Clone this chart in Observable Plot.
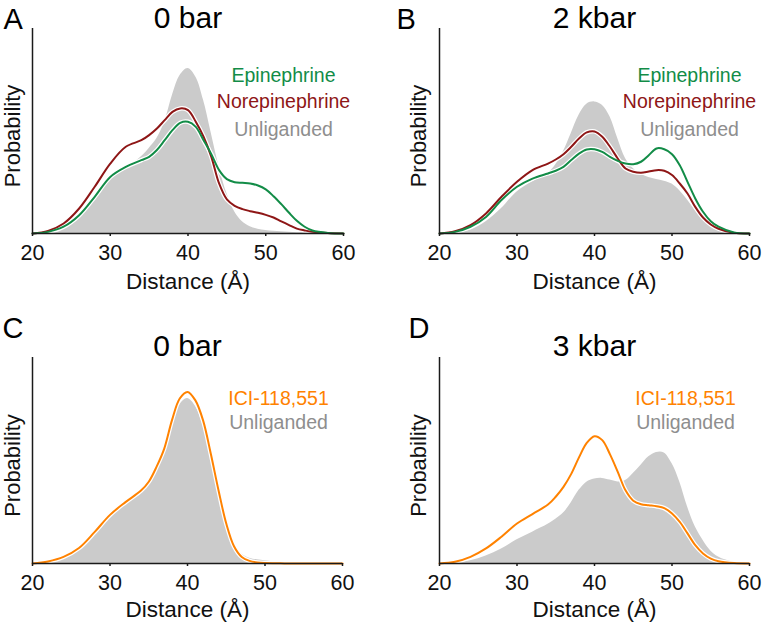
<!DOCTYPE html>
<html>
<head>
<meta charset="utf-8">
<script src="https://cdn.jsdelivr.net/npm/d3@7"></script>
<script src="https://cdn.jsdelivr.net/npm/@observablehq/plot@0.6"></script>
<style>
  body { margin: 0; background: #fff; }
  #fig { position: relative; width: 762px; height: 625px; overflow: hidden; background: #fff; }
  #fig svg { position: absolute; overflow: visible; }
</style>
</head>
<body>
<div id="fig"></div>
<script>
// ---------- data (distance in Å, probability in arbitrary units) ----------
const distance = [20, 22, 24, 26, 28, 30, 32, 34, 35, 36, 37, 38, 39, 40, 41, 42, 43, 44, 45, 46, 47, 48, 49, 50, 51, 52, 53, 54, 55, 56, 58, 60];
const xTicks = [20, 30, 40, 50, 60];

// Panel A: 0 bar
const unligA  = [0, 0.5, 2.9, 8.1, 16.3, 27.0, 31.7, 37.4, 41.5, 46.3, 54.5, 67.5, 77.2, 80.5, 76.4, 65.0, 48.8, 32.5, 19.5, 10.6, 5.7, 3.3, 2.1, 1.5, 1.1, 0.8, 0.6, 0.4, 0.3, 0.2, 0.1, 0];
const epiA    = [0, 0.8, 3.3, 8.9, 17.9, 27.6, 32.5, 35.8, 37.4, 40.7, 45.5, 50.4, 54.0, 54.5, 52.0, 45.5, 38.7, 30.9, 26.5, 25.0, 24.7, 24.4, 23.4, 21.5, 18.2, 14.3, 10.1, 6.2, 3.3, 1.5, 0.3, 0];
const norepiA = [0, 1.3, 4.9, 12.2, 22.8, 34.1, 42.3, 45.5, 48.0, 51.2, 55.3, 59.3, 61.0, 60.2, 54.5, 47.2, 37.4, 24.4, 16.6, 13.5, 11.9, 10.9, 10.1, 9.1, 7.8, 5.9, 4.1, 2.4, 1.5, 0.8, 0.2, 0];

// Panel B: 2 kbar
const unligB  = [0, 0.5, 1.6, 5.7, 12.2, 20.3, 25.2, 29.3, 33.5, 40.0, 48.8, 57.7, 63.1, 64.2, 62.6, 56.9, 46.3, 36.6, 31.7, 28.9, 27.3, 26.3, 25.5, 24.1, 20.8, 16.3, 11.1, 6.5, 3.3, 1.3, 0.2, 0];
const epiB    = [0, 0.8, 3.3, 8.1, 16.3, 22.8, 26.8, 29.3, 30.6, 32.5, 35.8, 39.0, 41.0, 41.1, 39.8, 37.4, 35.4, 34.1, 33.8, 35.0, 38.2, 41.5, 41.1, 38.7, 33.3, 25.2, 17.1, 10.6, 6.0, 3.3, 0.5, 0];
const norepiB = [0, 1.1, 4.1, 9.8, 17.9, 25.2, 30.9, 34.1, 36.1, 38.7, 42.3, 46.3, 49.3, 49.8, 47.2, 42.3, 36.6, 31.7, 30.1, 29.6, 30.2, 30.9, 30.6, 28.5, 24.4, 19.5, 13.0, 7.8, 4.4, 2.3, 0.3, 0];

// Panel C: 0 bar
const unligC  = [0, 0.8, 2.9, 7.0, 14.5, 22.9, 29.1, 34.6, 38.8, 45.6, 54.5, 67.5, 77.0, 80.1, 76.5, 67.0, 51.8, 35.0, 20.0, 9.5, 4.5, 2.6, 1.8, 1.3, 0.9, 0.6, 0.4, 0.3, 0.2, 0.1, 0, 0];
const iciC    = [0, 1.0, 3.2, 7.5, 15.2, 23.6, 29.8, 35.4, 39.7, 46.9, 55.8, 69.6, 80.1, 83.3, 79.3, 69.6, 53.4, 35.6, 19.4, 8.4, 3.2, 1.3, 0.5, 0.2, 0.1, 0.1, 0, 0, 0, 0, 0, 0];

// Panel D: 3 kbar
const unligD  = [0, 0.3, 1.3, 3.6, 7.0, 11.5, 15.2, 19.0, 21.5, 24.5, 29.5, 35.5, 39.5, 41.0, 41.3, 40.5, 39.6, 40.3, 43.7, 47.7, 51.8, 53.9, 53.7, 48.5, 39.6, 27.5, 17.8, 11.3, 6.1, 3.2, 0.6, 0];
const iciD    = [0, 0.8, 3.2, 7.3, 13.0, 19.4, 24.0, 28.6, 32.4, 37.2, 43.5, 51.5, 58.5, 61.8, 59.9, 53.0, 44.5, 35.5, 30.5, 28.8, 28.3, 27.8, 26.9, 24.3, 20.2, 14.6, 8.9, 4.9, 2.4, 1.1, 0.2, 0];

const panelLetters = ["A", "B", "C", "D"];
const panelTitles = ["0 bar", "2 kbar", "0 bar", "3 kbar"];
const seriesNames = { epi: "Epinephrine", norepi: "Norepinephrine", ici: "ICI-118,551", unlig: "Unliganded" };
const xLabel = "Distance (Å)";
const yLabel = "Probability";

// ---------- styles ----------
const COLORS = { epi: "#128c47", norepi: "#8e1616", ici: "#ff8200", unligText: "#8e8e8e", unligFill: "#cbcbcb", axis: "#1a1a1a" };
const FONT = "'Liberation Sans', Arial, Helvetica, sans-serif";
const CURVE = "catmull-rom";

const panels = [
  { letter: panelLetters[0], title: panelTitles[0], unlig: unligA,
    lines: [{ key: "norepi", values: norepiA }, { key: "epi", values: epiA }],
    legend: ["epi", "norepi", "unlig"],
    box: { left: 0, top: 0, width: 381, height: 300, mL: 32, mR: 38, mT: 28, mB: 67 },
    letterDx: -29, letterDy: 0, titleDy: -1, yLabDx: -13, xLabDy: 55, legDx: -60, legDy: [53.7, 79.7, 107] },
  { letter: panelLetters[1], title: panelTitles[1], unlig: unligB,
    lines: [{ key: "norepi", values: norepiB }, { key: "epi", values: epiB }],
    legend: ["epi", "norepi", "unlig"],
    box: { left: 381, top: 0, width: 381, height: 300, mL: 58, mR: 13, mT: 28, mB: 67 },
    letterDx: -43, letterDy: 0, titleDy: -1, yLabDx: -14, xLabDy: 55, legDx: -60, legDy: [53.7, 79.7, 107] },
  { letter: panelLetters[2], title: panelTitles[2], unlig: unligC,
    lines: [{ key: "ici", values: iciC }],
    legend: ["ici", "unlig"],
    box: { left: 0, top: 300, width: 381, height: 325, mL: 32, mR: 39, mT: 57, mB: 62 },
    letterDx: -30, letterDy: -20, titleDy: -2, yLabDx: -13, xLabDy: 53, legDx: -64, legDy: [47, 71] },
  { letter: panelLetters[3], title: panelTitles[3], unlig: unligD,
    lines: [{ key: "ici", values: iciD }],
    legend: ["ici", "unlig"],
    box: { left: 381, top: 300, width: 381, height: 325, mL: 58, mR: 13, mT: 57, mB: 62 },
    letterDx: -31, letterDy: -20, titleDy: -2, yLabDx: -14, xLabDy: 53, legDx: -64, legDy: [47, 71] }
];

const fig = document.getElementById("fig");

for (const p of panels) {
  const b = p.box;
  const marks = [
    Plot.areaY(distance, { x: d => d, y: (d, i) => p.unlig[i], fill: COLORS.unligFill, curve: CURVE })
  ];
  for (const s of p.lines) {
    marks.push(Plot.line(distance, { x: d => d, y: (d, i) => s.values[i], stroke: "white", strokeWidth: 4.5, curve: CURVE }));
  }
  for (const s of p.lines) {
    marks.push(Plot.line(distance, { x: d => d, y: (d, i) => s.values[i], stroke: COLORS[s.key], strokeWidth: 2, curve: CURVE }));
  }
  marks.push(
    Plot.ruleY([0], { stroke: COLORS.axis, strokeWidth: 1.5 }),
    Plot.ruleX([20], { stroke: COLORS.axis, strokeWidth: 1.5 }),
    Plot.axisX({ ticks: xTicks, tickSize: 3, tickPadding: 8, fontSize: 21.5, label: null, stroke: COLORS.axis, fill: "#111", strokeWidth: 1.5 }),
    Plot.text([p.title], { text: d => d, frameAnchor: "top", lineAnchor: "bottom", dy: p.titleDy, fontSize: 30, fill: "#000" }),
    Plot.text([p.letter], { text: d => d, frameAnchor: "top-left", textAnchor: "start", lineAnchor: "bottom", dx: p.letterDx, dy: p.letterDy, fontSize: 29, fill: "#000" }),
    Plot.text([yLabel], { text: d => d, frameAnchor: "left", rotate: -90, textAnchor: "middle", lineAnchor: "bottom", dx: p.yLabDx, dy: 5, fontSize: 22, fill: "#111" }),
    Plot.text([xLabel], { text: d => d, frameAnchor: "bottom", textAnchor: "middle", lineAnchor: "bottom", dy: p.xLabDy, fontSize: 22.5, fill: "#111" })
  );
  p.legend.forEach((key, j) => {
    marks.push(Plot.text([seriesNames[key]], {
      text: d => d, frameAnchor: "top-right", textAnchor: "middle", lineAnchor: "bottom",
      dx: p.legDx, dy: p.legDy[j], fontSize: 19.5,
      fill: key === "unlig" ? COLORS.unligText : COLORS[key]
    }));
  });

  const svg = Plot.plot({
    width: b.width, height: b.height,
    marginLeft: b.mL, marginRight: b.mR, marginTop: b.mT, marginBottom: b.mB,
    x: { domain: [20, 60] },
    y: { domain: [0, 100], axis: null },
    style: { fontFamily: FONT, background: "transparent", overflow: "visible", color: "#111" },
    marks
  });
  svg.style.left = b.left + "px";
  svg.style.top = b.top + "px";
  svg.style.maxWidth = "none";
  fig.appendChild(svg);
}
</script>
</body>
</html>
